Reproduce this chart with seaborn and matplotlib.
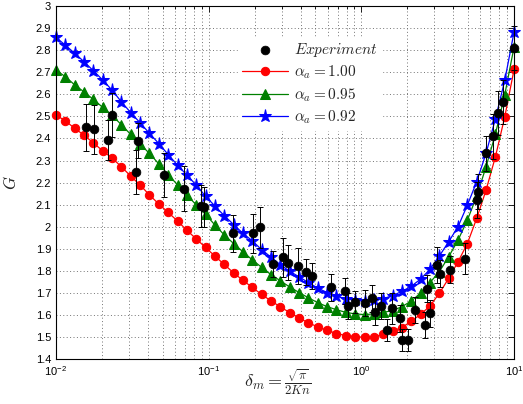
import numpy as np
import pandas as pd
import matplotlib
matplotlib.use("Agg")
import matplotlib.pyplot as plt
from matplotlib.ticker import FixedLocator, LogLocator, NullFormatter
import seaborn as sns

# model curves: delta_m grid (log spaced, 50 pts) and G for three alpha_a
delta = [0.01, 0.011515, 0.013257, 0.015264, 0.017575, 0.020236, 0.0233, 0.026827,
         0.03089, 0.035565, 0.040949, 0.047151, 0.054287, 0.062506, 0.071969, 0.082864,
         0.09541, 0.10985, 0.12649, 0.14563, 0.16768, 0.19307, 0.2223, 0.25595,
         0.29471, 0.33932, 0.39069, 0.44984, 0.51795, 0.59636, 0.68665, 0.7906,
         0.9103, 1.0481, 1.2068, 1.3895, 1.5999, 1.8421, 2.121, 2.4421,
         2.8118, 3.2375, 3.7276, 4.2919, 4.9417, 5.6898, 6.5513, 7.5431, 8.6851, 10.0]

g_100 = [2.506, 2.480, 2.446, 2.415, 2.380, 2.344, 2.311, 2.272, 2.229, 2.189,
         2.144, 2.103, 2.065, 2.026, 1.984, 1.945, 1.906, 1.867, 1.829, 1.791,
         1.757, 1.725, 1.693, 1.664, 1.637, 1.611, 1.586, 1.565, 1.546, 1.531,
         1.516, 1.507, 1.502, 1.499, 1.501, 1.512, 1.528, 1.543, 1.572, 1.603,
         1.641, 1.698, 1.766, 1.841, 1.924, 2.038, 2.166, 2.317, 2.498, 2.714]

g_095 = [2.710, 2.680, 2.643, 2.611, 2.577, 2.541, 2.505, 2.462, 2.418, 2.375,
         2.332, 2.285, 2.236, 2.190, 2.144, 2.099, 2.056, 2.008, 1.963, 1.924,
         1.886, 1.850, 1.816, 1.783, 1.755, 1.727, 1.702, 1.678, 1.656, 1.638,
         1.624, 1.612, 1.605, 1.602, 1.605, 1.612, 1.620, 1.638, 1.663, 1.700,
         1.747, 1.796, 1.864, 1.939, 2.030, 2.138, 2.272, 2.420, 2.598, 2.816]

g_092 = [2.858, 2.823, 2.786, 2.748, 2.707, 2.665, 2.619, 2.566, 2.517, 2.471,
         2.423, 2.377, 2.327, 2.279, 2.234, 2.189, 2.138, 2.094, 2.050, 2.010,
         1.970, 1.936, 1.896, 1.862, 1.828, 1.798, 1.773, 1.747, 1.722, 1.702,
         1.685, 1.674, 1.666, 1.663, 1.666, 1.674, 1.688, 1.707, 1.730, 1.763,
         1.807, 1.867, 1.932, 2.000, 2.098, 2.204, 2.333, 2.489, 2.663, 2.884]

# experiment
exp_delta = [0.01572, 0.01774, 0.02191, 0.02327, 0.03341, 0.03443, 0.05097, 0.0689,
             0.08906, 0.09317, 0.1442, 0.195, 0.2167, 0.2637, 0.3066, 0.3306,
             0.3843, 0.4337, 0.4748, 0.6322, 0.7808, 0.817, 0.9081, 1.056,
             1.173, 1.228, 1.344, 1.472, 1.586, 1.79, 1.845, 2.02,
             2.244, 2.61, 2.814, 2.689, 3.127, 3.271, 3.804, 4.77,
             5.715, 5.801, 6.546, 7.275, 7.847, 8.461, 9.985]
exp_g = [2.450, 2.441, 2.393, 2.506, 2.249, 2.390, 2.234, 2.173,
         2.095, 2.090, 1.970, 1.970, 1.997, 1.831, 1.861, 1.837,
         1.822, 1.796, 1.776, 1.725, 1.710, 1.640, 1.660, 1.655,
         1.675, 1.614, 1.640, 1.531, 1.630, 1.585, 1.487, 1.487,
         1.622, 1.554, 1.607, 1.720, 1.826, 1.788, 1.806, 1.856,
         2.121, 2.159, 2.333, 2.409, 2.514, 2.566, 2.811]
exp_err = [0.105, 0.11, 0.09, 0.10, 0.10, 0.08, 0.10, 0.10,
           0.095, 0.09, 0.083, 0.09, 0.094, 0.057, 0.087, 0.08,
           0.08, 0.06, 0.06, 0.06, 0.06, 0.06, 0.05, 0.06,
           0.06, 0.06, 0.06, 0.05, 0.07, 0.06, 0.05, 0.05,
           0.06, 0.06, 0.06, 0.06, 0.08, 0.06, 0.06, 0.07,
           0.08, 0.08, 0.08, 0.10, 0.10, 0.10, 0.10]

sns.set_theme(style="white")
plt.rcParams["font.family"] = ["Liberation Sans", "DejaVu Sans"]
plt.rcParams["mathtext.fontset"] = "cm"

models = pd.DataFrame({"delta": delta, "g100": g_100, "g095": g_095, "g092": g_092})
exp = pd.DataFrame({"delta": exp_delta, "G": exp_g, "err": exp_err})

fig, ax = plt.subplots(figsize=(5.23, 4.04), dpi=100)
fig.subplots_adjust(left=0.107, right=0.983, bottom=0.111, top=0.985)

sns.lineplot(data=models, x="delta", y="g100", ax=ax, color="red", lw=0.9,
             marker="o", markersize=6, markeredgecolor="red", clip_on=False,
             label=r"$\alpha_a = 1.00$")
sns.lineplot(data=models, x="delta", y="g095", ax=ax, color=(0, 0.5, 0), lw=0.9,
             marker="^", markersize=6.5, markeredgecolor=(0, 0.5, 0), clip_on=False,
             label=r"$\alpha_a = 0.95$")
sns.lineplot(data=models, x="delta", y="g092", ax=ax, color="blue", lw=0.9,
             marker="*", markersize=9.5, markeredgecolor="blue", clip_on=False,
             label=r"$\alpha_a = 0.92$")

ax.errorbar(exp["delta"], exp["G"], yerr=exp["err"], fmt="none", ecolor="black",
            elinewidth=0.7, capsize=2, capthick=0.7, zorder=5, clip_on=False)
sns.scatterplot(data=exp, x="delta", y="G", ax=ax, color="black", s=40,
                edgecolor="black", zorder=6, clip_on=False, label=r"$Experiment$")

ax.set_xscale("log")
ax.set_xlim(0.01, 10)
ax.set_ylim(1.4, 3.0)
yt = np.round(np.arange(1.4, 3.01, 0.1), 1)
ax.yaxis.set_major_locator(FixedLocator(yt))
ax.set_yticklabels([f"{v:g}" for v in yt])
ax.xaxis.set_minor_locator(LogLocator(base=10, subs=np.arange(2, 10)))
ax.xaxis.set_minor_formatter(NullFormatter())

grid_kw = dict(linestyle=(0, (1, 2.5)), color="0.45", linewidth=0.7)
ax.grid(True, which="major", **grid_kw)
ax.grid(True, which="minor", axis="x", **grid_kw)
ax.tick_params(which="both", direction="in", top=True, right=True, labelsize=8,
               colors="black", width=0.6)
ax.tick_params(which="major", length=4)
ax.tick_params(which="minor", length=2)
for s in ax.spines.values():
    s.set_color("black")
    s.set_linewidth(0.8)

ax.set_xlabel(r"$\delta_m = \frac{\sqrt{\pi}}{2Kn}$", fontsize=13)
ax.xaxis.set_label_coords(0.484, -0.022)
ax.set_ylabel(r"$G$", fontsize=12)
ax.yaxis.set_label_coords(-0.08, 0.5)

handles, labels = ax.get_legend_handles_labels()
order = [labels.index(r"$Experiment$"), labels.index(r"$\alpha_a = 1.00$"),
         labels.index(r"$\alpha_a = 0.95$"), labels.index(r"$\alpha_a = 0.92$")]
ax.legend([handles[i] for i in order], [labels[i] for i in order],
          loc="upper left", bbox_to_anchor=(0.38, 0.935), fontsize=11,
          frameon=True, facecolor="white", edgecolor="white", framealpha=1,
          handlelength=3, labelspacing=0.3, borderpad=0.3, handletextpad=0.4)

fig.savefig("out.png", dpi=100)
